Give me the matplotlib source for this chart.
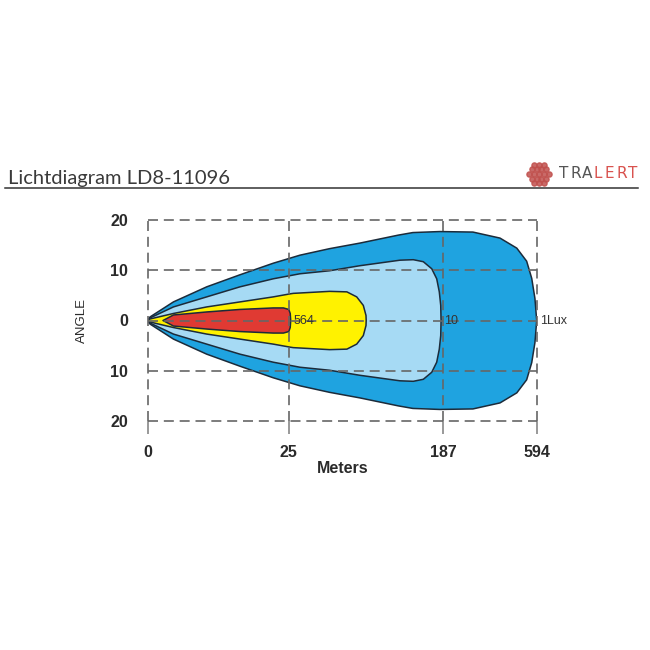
import numpy as np
import matplotlib.pyplot as plt

# distance axis in the diagram is not linear: ticks are placed at fixed spots
dist_ticks = [0, 25, 187, 594]
dist_pos = [0, 141, 296, 389.5]
angle_ticks = [-20, -10, 0, 10, 20]
angle_labels = ['20', '10', '0', '10', '20']

# upper half of each lux contour (meters, degrees), mirrored below
lux1_m = [0, 0.44, 4.6, 10.5, 16.4, 22.3, 37, 68, 99.5, 140, 155, 183, 315, 433, 506, 549, 571, 585, 592, 593]
lux1_a = [0, 0.7, 3.7, 6.7, 9.1, 11.4, 13.0, 14.3, 15.4, 17.0, 17.5, 17.7, 17.6, 16.4, 14.4, 11.8, 8.4, 4.4, 0.4, 0]
lux10_m = [0, 0.44, 4.6, 10.5, 16.4, 22.3, 37, 68, 99.5, 141.5, 155.4, 165.9, 174.7, 179.9, 182.6, 184.1, 184.4, 184.5]
lux10_a = [0, 0.5, 2.7, 4.7, 6.7, 8.3, 9.3, 9.9, 10.9, 12.0, 12.1, 11.7, 10.3, 8.3, 5.7, 3.0, 0.4, 0]
luxmid_m = [0, 0.44, 4.6, 10.5, 16.4, 22.3, 26.6, 30, 68, 86, 96.3, 103.2, 106, 106.2]
luxmid_a = [0, 0.3, 1.4, 2.7, 3.7, 4.7, 5.3, 5.4, 5.8, 5.7, 4.7, 3.0, 1.0, 0]
lux564_m = [2.75, 4.6, 10.5, 16.4, 22.3, 24.1, 25.3, 26.8, 27.3]
lux564_a = [0, 1.1, 1.7, 2.2, 2.5, 2.5, 2.2, 1.4, 0]

labels = ['564', '10', '1Lux']
label_x = [27.3, 185, 594]


def fwd(x):
    return np.interp(x, dist_ticks, dist_pos)


def inv(p):
    return np.interp(p, dist_pos, dist_ticks)


def closed(m, a):
    m = np.array(m)
    a = np.array(a)
    return np.concatenate([m, m[::-1]]), np.concatenate([a, -a[::-1]])


fig = plt.figure(figsize=(6.5, 6.5), dpi=100)
ax = fig.add_axes([147.5 / 650, 1 - 421 / 650, 389.5 / 650, 201 / 650])
ax.set_xscale('function', functions=(fwd, inv))
ax.set_xlim(0, 594)
ax.set_ylim(-20, 20)

edge = '#1c2b3a'
for m, a, c in [(lux1_m, lux1_a, '#1fa3e0'),
                (lux10_m, lux10_a, '#a6daf4'),
                (luxmid_m, luxmid_a, '#fff200'),
                (lux564_m, lux564_a, '#e03a33')]:
    xs, ys = closed(m, a)
    ax.fill(xs, ys, facecolor=c, edgecolor=edge, linewidth=1.1, joinstyle='round', zorder=2)

for t, x in zip(labels, label_x):
    ax.annotate(t, (x, 0), xytext=(2, 0), textcoords='offset points', ha='left', va='center',
                fontsize=9, color='#333333', family='Liberation Sans', zorder=5)

ax.set_xticks(dist_ticks)
ax.set_xticklabels([str(d) for d in dist_ticks])
ax.set_yticks(angle_ticks)
ax.set_yticklabels(angle_labels)
ax.grid(True, linestyle=(0, (6, 3.5)), color='#666666', linewidth=1.2, zorder=4)
ax.set_axisbelow(False)
for gl in ax.get_xgridlines() + ax.get_ygridlines():
    gl.set_clip_on(False)
for s in ax.spines.values():
    s.set_visible(False)
ax.tick_params(axis='x', length=9, width=1.2, color='#888888', pad=8)
ax.tick_params(axis='y', length=0, pad=14)
for lab in ax.get_xticklabels() + ax.get_yticklabels():
    lab.set_family('Liberation Sans')
    lab.set_fontsize(11.5)
    lab.set_fontweight('bold')
    lab.set_color('#2a2a2a')

ax.set_xlabel('Meters', family='Liberation Sans', fontsize=11.5, fontweight='bold',
              color='#2a2a2a', labelpad=1)
ax.set_ylabel('ANGLE', family='Liberation Sans', fontsize=9.5, color='#2a2a2a', labelpad=16)

# header
fig.text(8 / 650, 1 - 179 / 650, 'Lichtdiagram LD8-11096', family='Lato',
         fontsize=14.5, color='#3a3a3a', ha='left', va='center')
fig.add_artist(plt.Line2D([5 / 650, 638 / 650], [1 - 187.5 / 650] * 2, color='#333333', lw=1.1))

# logo
lx = fig.add_axes([524 / 650, 1 - 188 / 650, 30 / 650, 28 / 650])
lx.set_xlim(0, 6)
lx.set_ylim(0, 6)
lx.axis('off')
hx, hy = [], []
for r, n in enumerate([3, 4, 5, 4, 3]):
    for k in range(n):
        hx.append(3 - (n - 1) / 2 + k)
        hy.append(1 + r)
lx.scatter(hx, hy, s=14, color='#c0504d', alpha=0.85)
for i, ch in enumerate('TRALERT'):
    fig.text((559 + i * 11.5) / 650, 1 - 174 / 650, ch, family='DejaVu Sans Condensed',
             fontsize=11, color='#555555' if i < 3 else '#d9534f', ha='left', va='center')

fig.savefig('out.png', dpi=100, facecolor='white')
